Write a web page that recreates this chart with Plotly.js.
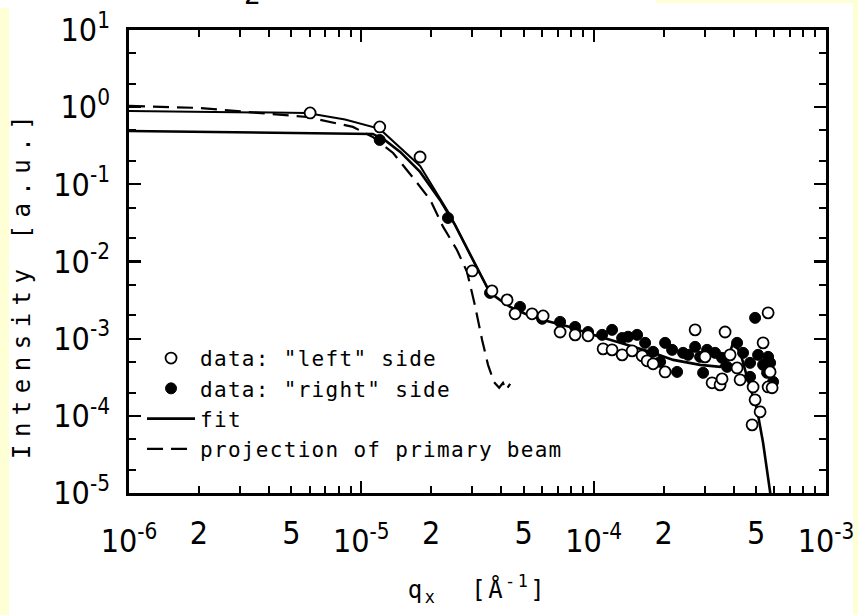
<!DOCTYPE html>
<html><head><meta charset="utf-8">
<script src="https://cdn.plot.ly/plotly-3.0.1.min.js"></script>
<style>
html,body{margin:0;padding:0;background:#fff;}
#chart{width:859px;height:615px;}
.ytitle{letter-spacing:7.5px;}
.xtitle{letter-spacing:2.5px;}
.legendtext{letter-spacing:1.3px;}
</style></head><body><div id="chart"></div>
<script>
// ---- data ----
const qLeft = [6.02e-6,1.20e-5,1.79e-5,3.00e-5,3.65e-5,4.24e-5,4.59e-5,5.43e-5,6.06e-5,7.17e-5,8.32e-5,9.46e-5,
  1.098e-4,1.20e-4,1.326e-4,1.464e-4,1.616e-4,1.698e-4,1.802e-4,2.03e-4,2.733e-4,3.017e-4,3.233e-4,3.50e-4,3.57e-4,
  3.678e-4,3.865e-4,4.143e-4,4.268e-4,4.807e-4,4.855e-4,4.952e-4,5.204e-4,5.361e-4,5.634e-4,5.634e-4,5.862e-4,5.747e-4];
const iLeft = [0.841,0.554,0.226,0.00755,0.00416,0.00318,0.00210,0.00210,0.00197,0.00122,0.00112,0.00109,
  0.000738,0.000716,0.000617,0.000695,0.000599,0.000516,0.000472,0.000371,0.00130,0.000581,0.000268,0.000252,0.000301,
  0.00122,0.000617,0.000418,0.000293,7.64e-5,0.000237,0.000161,0.0001127,0.000882,0.00216,0.000237,0.000231,0.000371];

const qRight = [1.20e-5,2.36e-5,3.58e-5,4.82e-5,6.00e-5,7.17e-5,8.32e-5,9.46e-5,1.087e-4,1.20e-4,1.326e-4,1.407e-4,
  1.538e-4,1.665e-4,1.802e-4,1.932e-4,2.03e-4,2.176e-4,2.286e-4,2.426e-4,2.549e-4,2.733e-4,2.871e-4,2.958e-4,3.077e-4,
  3.331e-4,3.57e-4,3.752e-4,4.143e-4,4.396e-4,4.712e-4,4.712e-4,4.952e-4,5.102e-4,5.361e-4,5.578e-4,5.634e-4,5.747e-4,5.92e-4];
const iRight = [0.376,0.0367,0.00392,0.00258,0.00181,0.00165,0.00142,0.00122,0.00112,0.00130,0.00102,0.00106,
  0.00112,0.000882,0.000675,0.000501,0.000882,0.000716,0.000371,0.000655,0.000617,0.000783,0.000581,0.000361,0.000716,
  0.000655,0.000564,0.000431,0.000882,0.000655,0.000486,0.000320,0.00186,0.000617,0.000458,0.000361,0.000581,0.000486,0.000276];

const qFit = [1.0e-6,1.12e-5,1.26e-5,1.47e-5,1.79e-5,2.18e-5,2.53e-5,2.94e-5,3.58e-5,3.95e-5,4.37e-5,5.07e-5,6.06e-5,
  7.91e-5,9.94e-5,1.30e-4,1.80e-4,2.20e-4,2.87e-4,3.50e-4,3.79e-4,3.98e-4,4.27e-4,4.57e-4,5.05e-4,5.36e-4,5.63e-4,5.81e-4];
const iFit = [0.492,0.450,0.376,0.263,0.145,0.0628,0.0298,0.0122,0.00392,0.00318,0.00258,0.00210,0.00175,
  0.00142,0.00112,0.000882,0.000655,0.000531,0.000458,0.000431,0.000564,0.000882,0.000675,0.00032,0.00012,4.47e-5,1.48e-5,8.2e-6];

const qFitUpper = [1.0e-6,5.84e-6,8.51e-6,1.20e-5,1.79e-5,2.41e-5,2.94e-5,3.58e-5];
const iFitUpper = [0.893,0.841,0.69,0.523,0.173,0.0402,0.0122,0.00392];

const qBeam = [1.0e-6,2.02e-6,5.84e-6,9.2e-6,1.12e-5,1.37e-5,1.70e-5,1.98e-5,2.25e-5,2.58e-5,2.85e-5,3.08e-5,
  3.31e-5,3.51e-5,3.72e-5,3.92e-5,4.07e-5,4.20e-5,4.37e-5];
const iBeam = [1.04,0.976,0.746,0.555,0.411,0.255,0.114,0.0628,0.0281,0.0141,0.00733,0.00274,
  0.000964,0.000458,0.000275,0.000231,0.000267,0.000217,0.00026];

const legendNames = ['data: "left" side','data: "right" side','fit','projection of primary beam'];

// ---- tick labels ----
const xMajorVals = [1e-6,1e-5,1e-4,1e-3];
const xMajorText = ['10<sup>-6</sup>','10<sup>-5</sup>','10<sup>-4</sup>','10<sup>-3</sup>'];
const xMidVals = [2e-6,5e-6,2e-5,5e-5,2e-4,5e-4];
const xMidText = ['2','5','2','5','2','5'];
const xMinorVals = [2e-6,3e-6,4e-6,5e-6,6e-6,7e-6,8e-6,9e-6,2e-5,3e-5,4e-5,5e-5,6e-5,7e-5,8e-5,9e-5,
  2e-4,3e-4,4e-4,5e-4,6e-4,7e-4,8e-4,9e-4];
const yMajorVals = [1e-5,1e-4,1e-3,1e-2,1e-1,1,10];
const yMajorText = ['10<sup>-5</sup>','10<sup>-4</sup>','10<sup>-3</sup>','10<sup>-2</sup>','10<sup>-1</sup>','10<sup>0</sup>','10<sup>1</sup>'];
const yMinorVals = [2e-5,5e-5,2e-4,5e-4,2e-3,5e-3,2e-2,5e-2,0.2,0.5,2,5];

// ---- styling ----
const TICKFONT = {family:'"Liberation Sans Narrow","DejaVu Sans Condensed","DejaVu Sans Mono",monospace', size:32, color:'#000'};
const TXTFONT = {family:'"DejaVu Sans Mono",monospace', size:21, color:'#000'};
const YEL = '#FFFFD6';

const traces = [
  {x:qBeam, y:iBeam, mode:'lines', name:legendNames[3], legendrank:4,
   line:{color:'#000', width:2.2, dash:'16px,8px'}, hoverinfo:'skip'},
  {x:qFitUpper, y:iFitUpper, mode:'lines', showlegend:false,
   line:{color:'#000', width:2}, hoverinfo:'skip'},
  {x:qFit, y:iFit, mode:'lines', name:legendNames[2], legendrank:3,
   line:{color:'#000', width:2.6}, hoverinfo:'skip'},
  {x:qRight, y:iRight, mode:'markers', name:legendNames[1], legendrank:2,
   marker:{symbol:'circle', size:11, color:'#000', line:{color:'#000', width:1}}},
  {x:qLeft, y:iLeft, mode:'markers', name:legendNames[0], legendrank:1,
   marker:{symbol:'circle', size:11, color:'#fff', line:{color:'#000', width:1.8}}},
  {x:[], y:[], xaxis:'x2', yaxis:'y', showlegend:false, hoverinfo:'skip'}
];

const layout = {
  width:859, height:615,
  margin:{l:129, r:33, t:30, b:122},
  paper_bgcolor:'#fff', plot_bgcolor:'#fff',
  showlegend:true,
  legend:{x:0.0187, y:0.335, xanchor:'left', yanchor:'top', bgcolor:'rgba(0,0,0,0)',
          borderwidth:0, font:TXTFONT, itemwidth:48, tracegroupgap:0},
  xaxis:{type:'log', range:[-6,-3], tickmode:'array', tickvals:xMajorVals, ticktext:xMajorText,
    ticks:'inside', ticklen:12, tickwidth:2.2, tickcolor:'#000',
    showline:true, linewidth:2.6, linecolor:'#000', mirror:'ticks',
    showgrid:false, zeroline:false, tickfont:TICKFONT, ticklabelstandoff:18,
    minor:{tickmode:'array', tickvals:xMinorVals, ticks:'inside', ticklen:7, tickwidth:2, tickcolor:'#000', showgrid:false},
    title:{text:'q<sub>x</sub>  [Å<sup>-1</sup>]', font:{family:'"DejaVu Sans Mono",monospace', size:24, color:'#000'}, standoff:22}},
  xaxis2:{type:'log', range:[-6,-3], overlaying:'x', anchor:'y', side:'bottom',
    tickmode:'array', tickvals:xMidVals, ticktext:xMidText, ticks:'', showline:false,
    showgrid:false, zeroline:false, tickfont:TICKFONT, ticklabelstandoff:18},
  yaxis:{type:'log', range:[-5,1], tickmode:'array', tickvals:yMajorVals, ticktext:yMajorText,
    ticks:'inside', ticklen:12, tickwidth:2.2, tickcolor:'#000',
    showline:true, linewidth:2.6, linecolor:'#000', mirror:'ticks',
    showgrid:false, zeroline:false, tickfont:TICKFONT, ticklabelstandoff:10,
    minor:{tickmode:'array', tickvals:yMinorVals, ticks:'inside', ticklen:7, tickwidth:2, tickcolor:'#000', showgrid:false},
    title:{text:'Intensity [a.u.]<span style="color:rgba(0,0,0,0)">..</span>', font:{family:'"DejaVu Sans Mono",monospace', size:24, color:'#000'}, standoff:16}},
  shapes:[
    {type:'rect', xref:'paper', yref:'paper', x0:-0.1851, x1:-0.1722, y0:-0.2635, y1:1.0475, fillcolor:YEL, line:{width:0}, layer:'below'},
    {type:'rect', xref:'paper', yref:'paper', x0:1.0387, x1:1.0460, y0:-0.2635, y1:1.0648, fillcolor:YEL, line:{width:0}, layer:'below'},
    {type:'rect', xref:'paper', yref:'paper', x0:0.7561, x1:1.0460, y0:1.0583, y1:1.0648, fillcolor:YEL, line:{width:0}, layer:'below'}
  ],
  annotations:[
    {xref:'paper', yref:'paper', x:0.1765, y:1.037, xanchor:'center', yanchor:'bottom', showarrow:false,
     text:'z', font:{family:'"DejaVu Sans Mono",monospace', size:30, color:'#000'}}
  ]
};

Plotly.newPlot('chart', traces, layout, {displayModeBar:false, staticPlot:true});
</script></body></html>
